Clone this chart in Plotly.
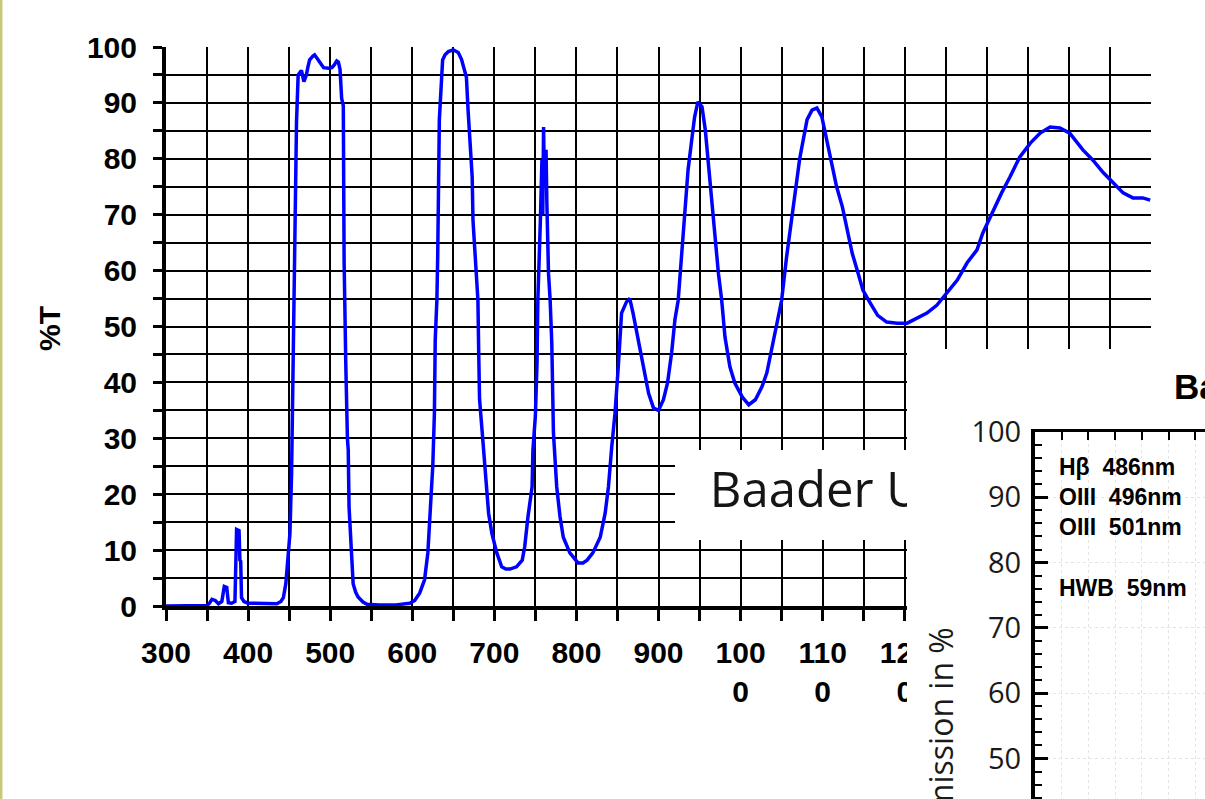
import plotly.graph_objects as go

# ---------------- data ----------------
wavelength_nm = [
    300, 350, 353, 356, 360, 364, 368, 371, 374, 376, 380, 384, 386, 389, 390, 391, 392, 395, 400,
    420, 435, 440, 443, 446, 448, 451, 453, 455, 456, 457, 459, 461, 463, 465, 468, 471, 473, 475,
    479, 481, 484, 488, 492, 498, 502, 505, 508, 510, 512, 514, 516, 517, 518, 519, 521, 522, 523,
    525, 526, 528, 531, 534, 540, 545, 560, 580, 597, 603, 609, 615, 619, 622, 625, 627, 628, 630,
    631, 633, 636, 637, 640, 644, 650, 656, 660, 662, 666, 668, 670, 673, 674, 678, 680, 681, 682,
    685, 689, 693, 697, 703, 709, 714, 719, 724, 727, 734, 737, 741, 746, 747, 750, 752, 753, 756,
    758, 759, 760, 761, 763, 764, 766, 768, 770, 772, 776, 780, 784, 792, 802, 808, 813, 820, 829,
    835, 839, 843, 847, 851, 853, 855, 861, 865, 869, 875, 881, 888, 894, 900, 906, 911, 916, 920,
    924, 928, 932, 936, 940, 944, 948, 953, 957, 961, 965, 969, 973, 977, 981, 987, 993, 1002, 1010,
    1018, 1026, 1032, 1038, 1044, 1050, 1056, 1063, 1069, 1072, 1076, 1081, 1087, 1093, 1099, 1105,
    1111, 1117, 1124, 1130, 1136, 1143, 1149, 1158, 1167, 1178, 1191, 1203, 1215, 1227, 1239, 1251,
    1264, 1276, 1288, 1295, 1306, 1318, 1328, 1340, 1353, 1365, 1377, 1389, 1401, 1417, 1429, 1442,
    1454, 1466, 1478, 1490, 1499,
]
transmission_pct = [
    0, 0.1, 0.5, 1.2, 1.0, 0.4, 0.8, 3.5, 3.3, 0.6, 0.5, 0.8, 13.7, 13.5, 8.2, 8.0, 1.5, 0.8, 0.5,
    0.4, 0.4, 0.8, 1.5, 4, 7.3, 13, 23.8, 45, 60, 66.7, 86.6, 95, 95.5, 95.8, 93.8, 95, 96.5, 97.7,
    98.4, 98.6, 98, 97.2, 96.3, 96.2, 96.3, 96.8, 97.5, 97.3, 96, 90.8, 89.5, 61.6, 48, 43.5, 30, 28, 17.7,
    12, 10.9, 4, 2.5, 1.6, 0.7, 0.3, 0.2, 0.2, 0.5, 1, 2.3, 4.7, 9.5, 17.7, 25, 34.5, 47.6, 54.7,
    62.5, 87, 94, 97.7, 98.6, 99.2, 99.5, 99, 97.8, 96.8, 94.6, 88.7, 84, 76.8, 69, 60.7, 54.7, 45, 37,
    31.5, 24.3, 16.6, 13, 9.5, 7, 6.6, 6.6, 6.8, 7, 8.2, 10.6, 16, 21.3, 27.9, 34, 43.5, 54.7, 68.5,
    79.8, 70, 85.7, 75, 81.6, 72, 59.5, 54.7, 47, 31, 21.3, 16, 12.3, 9.5, 7.7, 7.7, 8.2, 9.5, 12.3,
    16.6, 21.3, 28.4, 34.5, 42.8, 47.6, 52.4, 54.4, 55, 52.4, 47.6, 42.8, 38, 35.4, 35, 36.9, 39.9, 45.3, 51.2,
    54.7, 62.4, 69.6, 78, 82.8, 87.5, 90.2, 89.3, 85.2, 78.5, 72.6, 66.7, 59.5, 54.7, 48.1, 42.8, 39.9, 37.4, 36,
    36.9, 39.2, 41.7, 45.8, 50, 54.7, 62.4, 69.6, 76.7, 80, 83.4, 87, 88.7, 89.1, 87.5, 83.4,
    79.2, 75, 71.4, 67.3, 63.1, 59.6, 56.5, 54.2, 52, 50.8, 50.6, 50.6, 51.5, 52.4, 53.8, 56,
    58.3, 61.4, 63.7, 66.7, 70.3, 73.9, 76.7, 80.3, 82.8, 84.6, 85.7, 85.5, 84.6, 81.6, 79.8, 77.5,
    75.7, 73.9, 73, 73, 72.6,
]

x_tick_vals = list(range(300, 1501, 50))
# labels 1300-1500 are hidden behind the overlaid inset in the reference
x_label_vals = [300, 400, 500, 600, 700, 800, 900, 1000, 1100, 1200]
x_label_text = ["300", "400", "500", "600", "700", "800", "900",
                "100<br>0", "110<br>0", "120<br>0"]
y_tick_vals = list(range(0, 101, 5))
y_label_vals = list(range(0, 101, 10))

main_y_title = "%T"
box_text = "Baader U"
inset_title = "Baader UHC-S"
inset_y_title = "Transmission in %"
inset_lines = ["H\u03b2\u00a0\u00a0486nm", "OIII\u00a0\u00a0496nm", "OIII\u00a0\u00a0501nm", "HWB\u00a0\u00a059nm"]
inset_line_levels = [94.6, 90.0, 85.4, 76.1]

# ---------------- layout geometry (pixels) ----------------
W, H = 1205, 799
def fx(px): return px / W
def fy(py): return 1 - py / H

lab = dict(zip(x_label_vals, x_label_text))
x_text = [lab.get(v, "") for v in x_tick_vals]
y_text = [str(v) if v in y_label_vals else "" for v in y_tick_vals]

fig = go.Figure()

# main curve
fig.add_trace(go.Scatter(x=wavelength_nm, y=transmission_pct, mode="lines",
                         line=dict(color="#0000ff", width=3.5), xaxis="x", yaxis="y",
                         showlegend=False, hoverinfo="skip"))
# text panel inside the main chart
fig.add_trace(go.Scatter(x=[0.15], y=[0.50], mode="text", text=[box_text],
                         textposition="middle right", cliponaxis=True,
                         textfont=dict(family="Open Sans", size=49, color="#151515"),
                         xaxis="x2", yaxis="y2", showlegend=False, hoverinfo="skip"))
# cover panel (white) and inset chart
fig.add_trace(go.Scatter(x=[None], y=[None], xaxis="x3", yaxis="y3", showlegend=False))
fig.add_trace(go.Scatter(x=[None], y=[None], xaxis="x4", yaxis="y4", showlegend=False))

lab_font = dict(family="Liberation Sans", size=30, color="black", weight="bold")

hidden = dict(showline=False, showgrid=False, zeroline=False, showticklabels=False, ticks="",
              fixedrange=True, automargin=False)

fig.update_layout(
    width=W, height=H,
    margin=dict(l=0, r=0, t=0, b=0, pad=0, autoexpand=False),
    paper_bgcolor="white", plot_bgcolor="white",
    showlegend=False,
    xaxis=dict(domain=[fx(166), fx(1151)], range=[300, 1500], anchor="y", automargin=False,
               tickmode="array", tickvals=x_tick_vals, ticktext=x_text,
               ticks="outside", ticklen=11, tickwidth=3, tickcolor="black",
               showgrid=True, gridcolor="black", gridwidth=2, zeroline=False,
               showline=True, linecolor="black", linewidth=3.5,
               tickfont=lab_font, ticklabelstandoff=6),
    yaxis=dict(domain=[fy(606), fy(47)], range=[0, 100], anchor="x", automargin=False,
               tickmode="array", tickvals=y_tick_vals, ticktext=y_text,
               ticks="outside", ticklen=9, tickwidth=3, tickcolor="black",
               showgrid=True, gridcolor="black", gridwidth=2, zeroline=False,
               showline=True, linecolor="black", linewidth=4,
               tickfont=lab_font, ticklabelstandoff=10),
    xaxis2=dict(domain=[fx(675), fx(907)], range=[0, 1], anchor="y2", **hidden),
    yaxis2=dict(domain=[fy(540), fy(450)], range=[0, 1], anchor="x2", **hidden),
    xaxis3=dict(domain=[fx(907), 1], range=[0, 1], anchor="y3", **hidden),
    yaxis3=dict(domain=[0, fy(349)], range=[0, 1], anchor="x3", **hidden),
    xaxis4=dict(domain=[fx(1035), 1], range=[350, 350 + (W - 1035) / 26.7 * 25], anchor="y4",
                side="top", dtick=25, tick0=350, showticklabels=False, automargin=False,
                ticks="inside", ticklen=8, tickwidth=2, tickcolor="black",
                showline=True, linecolor="black", linewidth=3, zeroline=False,
                showgrid=True, gridcolor="#e4e4e4", gridwidth=1, griddash="dot"),
    yaxis4=dict(domain=[0, fy(432)], range=[100 - (H - 432) / 6.53, 100], anchor="x4",
                dtick=10, tick0=0, ticks="inside", ticklen=13, tickwidth=3, tickcolor="black",
                minor=dict(dtick=2, ticks="inside", ticklen=7, tickwidth=2, tickcolor="black"),
                showline=True, linecolor="black", linewidth=4, zeroline=False, automargin=False,
                showgrid=True, gridcolor="#e4e4e4", gridwidth=1, griddash="dot",
                tickfont=dict(family="Open Sans", size=29, color="#1a1a1a"),
                ticklabelstandoff=4),
)

fig.add_annotation(x=fx(49.5), y=fy(328.5), xref="paper", yref="paper", text=main_y_title,
                   textangle=-90, showarrow=False, xanchor="center", yanchor="middle",
                   font=dict(family="Liberation Sans", size=30, color="black", weight="bold"))
fig.add_annotation(x=fx(1172), y=fy(387), xref="paper", yref="paper", text=inset_title,
                   showarrow=False, xanchor="left", yanchor="middle",
                   font=dict(family="Liberation Sans", size=35, color="black", weight="bold"))
fig.add_annotation(x=fx(940), y=fy(626), xref="paper", yref="paper", text=inset_y_title,
                   textangle=-90, showarrow=False, xanchor="center", yanchor="top",
                   font=dict(family="Open Sans", size=32, color="#1a1a1a"))
for t, lv in zip(inset_lines, inset_line_levels):
    fig.add_annotation(x=fx(1057), y=lv, xref="paper", yref="y4", text=t, showarrow=False,
                       xanchor="left", yanchor="middle",
                       font=dict(family="Liberation Sans", size=23, color="black", weight="bold"))

# yellow-green left frame edge of the picture
fig.add_shape(type="line", xref="paper", yref="paper", x0=fx(1.2), x1=fx(1.2), y0=0, y1=1,
              line=dict(color="#c8c878", width=2.5), layer="above")

fig.write_html("out.html", config={"displayModeBar": False},
               post_script="document.body.style.margin='0';")
